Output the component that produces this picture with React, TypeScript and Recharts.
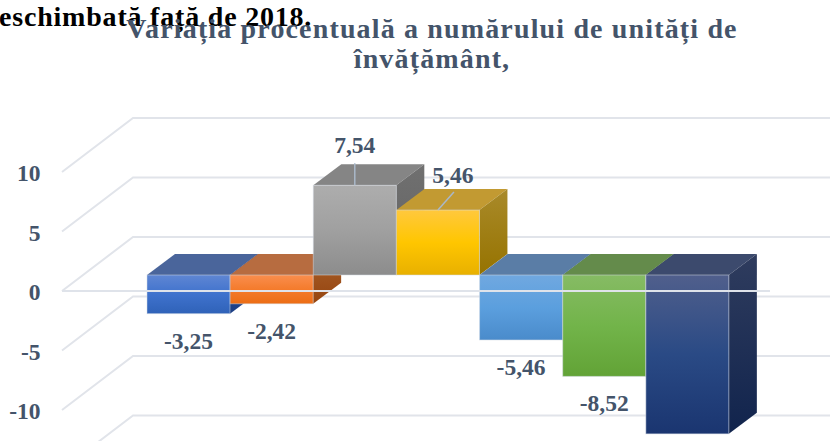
import React from 'react'
import { BarChart, Bar, XAxis, YAxis, CartesianGrid, ReferenceLine, LabelList, Cell } from 'recharts'

const categories = ['A', 'B', 'C', 'D', 'E', 'F', 'G']
const values = [-3.25, -2.42, 7.54, 5.46, -5.46, -8.52, -13.35]
const gridTicks = [-15, -10, -5, 0, 5, 10]

const frontTop = ['#5f86d3', '#f98e4e', '#adadad', '#ffc83d', '#70a8e0', '#86bb64', '#505f8c']
const frontMid = ['#3f72cd', '#f47b2c', '#a0a0a0', '#ffc600', '#5b9fde', '#72b44a', '#2a4a85']
const frontBottom = ['#2f62b8', '#ec6d14', '#8c8c8c', '#e8b000', '#4a8bcb', '#62a336', '#1a3570']
const topFace = ['#4a659b', '#b76c40', '#858585', '#c29a32', '#5a7da6', '#648b4b', '#3c4a6d']
const sideTop = ['#2a4a8c', '#a8602c', '#707070', '#a98a2a', '#4a6e9c', '#567a3e', '#2f3c5e']
const sideBottom = ['#1c3f85', '#95440e', '#626262', '#967300', '#3d6590', '#4c7030', '#11244d']

// label offsets from the end of the bar: [dx, dy]; the last label falls off the page in the picture
const labelOffsets = [[0, 30], [0, 30], [0, -38], [15, -32], [0, 30], [0, 29], null]
const leaderLines = [null, null, [0, -22, 0, 0], [16, -18, 0, 0], null, null, null]

const data = categories.map((name, i) => ({ name, value: values[i] }))

const W = 830
const H = 480
const PAGE_H = 441
const PX_PER_UNIT = 11.9
const GRID_ZERO = 291
// the bars stand a bit behind the front edge of the floor
const BAR_LIFT = 16
const DEPTH_X = 28
const DEPTH_Y = 21
const TEXT = '#44546a'
const GRID = '#e1e4ea'

const comma = (v: number) => String(v).replace('.', ',')

// one gridline of the 3D chart: slanted side wall, then the back wall
const GridRow = (props: any) => {
  const y = props.y1
  const backY = y - 54
  return <polyline key={y} points={`62,${y} 133,${backY} ${W},${backY}`} fill="none" stroke={GRID} strokeWidth={2} />
}

const AxisTick = (props: any) => {
  const { y, payload } = props
  if (y > PAGE_H) return null
  return (
    <text x={40.5} y={y + 9} textAnchor="end" fill={TEXT} fontSize={23.5} fontWeight={700} fontFamily="Liberation Serif">
      {comma(payload.value)}
    </text>
  )
}

const Box3D = (props: any) => {
  const { x, y, width, height, index } = props
  const top = Math.min(y, y + height) - BAR_LIFT
  const bottom = Math.max(y, y + height) - BAR_LIFT
  const right = x + width
  return (
    <g>
      <polygon
        points={`${x},${top} ${x + DEPTH_X},${top - DEPTH_Y} ${right + DEPTH_X},${top - DEPTH_Y} ${right},${top}`}
        fill={topFace[index]}
      />
      <polygon
        points={`${right},${top} ${right + DEPTH_X},${top - DEPTH_Y} ${right + DEPTH_X},${bottom - DEPTH_Y} ${right},${bottom}`}
        fill={`url(#side${index})`}
      />
      <rect x={x} y={top} width={width} height={bottom - top} fill={`url(#front${index})`} stroke="#d6dce5" strokeOpacity={0.5} strokeWidth={1} />
    </g>
  )
}

const BarLabel = (props: any) => {
  const { x, y, width, height, index, value } = props
  const offset = labelOffsets[index]
  if (!offset) return null
  const end = (value < 0 ? Math.max(y, y + height) : Math.min(y, y + height)) - BAR_LIFT
  const cx = x + width / 2
  const leader = leaderLines[index]
  return (
    <g>
      {leader && (
        <line x1={cx + leader[0]} y1={end + leader[1]} x2={cx + leader[2]} y2={end + leader[3]} stroke="#a9b8c9" strokeWidth={1.5} />
      )}
      <text x={cx + offset[0]} y={end + offset[1]} textAnchor="middle" dominantBaseline="middle" fill={TEXT} fontSize={23.5} fontWeight={700} fontFamily="Liberation Serif">
        {comma(value)}
      </text>
    </g>
  )
}

export default function App() {
  return (
    <div style={{ position: 'fixed', left: 0, top: 0, width: W, height: PAGE_H, overflow: 'hidden', background: '#fff' }}>
      <BarChart
        width={W}
        height={H}
        data={data}
        barCategoryGap={0}
        margin={{ top: 0, right: W - 770, bottom: 0, left: 0 }}
      >
        <defs>
          {categories.map((c, i) => (
            <linearGradient key={c} id={`front${i}`} x1="0" y1="0" x2="0" y2="1">
              <stop offset="0%" stopColor={frontTop[i]} />
              <stop offset="50%" stopColor={frontMid[i]} />
              <stop offset="100%" stopColor={frontBottom[i]} />
            </linearGradient>
          ))}
          {categories.map((c, i) => (
            <linearGradient key={c} id={`side${i}`} x1="0" y1="0" x2="0" y2="1">
              <stop offset="0%" stopColor={sideTop[i]} />
              <stop offset="100%" stopColor={sideBottom[i]} />
            </linearGradient>
          ))}
        </defs>
        <CartesianGrid vertical={false} horizontal={GridRow} horizontalValues={gridTicks} />
        <XAxis dataKey="name" hide padding={{ left: 85, right: 41 }} />
        <YAxis
          width={62}
          domain={[-(H - GRID_ZERO) / PX_PER_UNIT, GRID_ZERO / PX_PER_UNIT]}
          ticks={gridTicks}
          interval={0}
          axisLine={false}
          tickLine={false}
          tick={AxisTick}
        />
        <Bar dataKey="value" isAnimationActive={false} shape={Box3D}>
          {categories.map((c) => (
            <Cell key={c} />
          ))}
          <LabelList dataKey="value" content={BarLabel} />
        </Bar>
        <ReferenceLine y={0} stroke="#dfe3ea" strokeWidth={2} />
      </BarChart>
      <div
        style={{
          position: 'absolute', left: -1, top: 1.5, whiteSpace: 'nowrap', color: '#000',
          font: '700 28px/30px "Liberation Serif"', letterSpacing: 0.8,
        }}
      >
        eschimbată față de 2018.
      </div>
      <div
        style={{
          position: 'absolute', left: 32, top: 13.5, width: 800, textAlign: 'center', color: TEXT,
          font: '700 28px/30px "Liberation Serif"', letterSpacing: 1.15,
        }}
      >
        Variația procentuală a numărului de unități de
        <br />
        învățământ,
      </div>
    </div>
  )
}
